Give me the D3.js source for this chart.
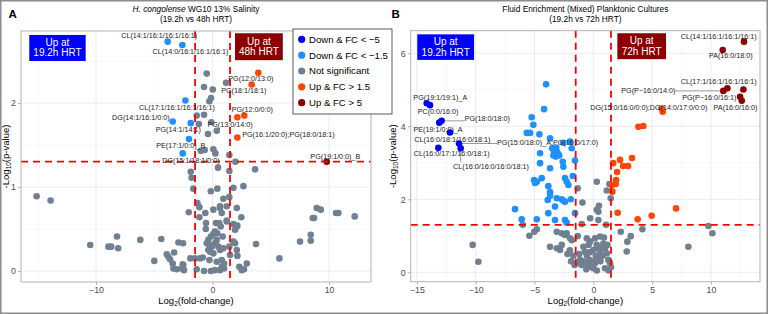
<!DOCTYPE html>
<html>
<head>
<meta charset="utf-8">
<script src="https://cdn.jsdelivr.net/npm/d3@7"></script>
<style>
  body { margin: 0; background: #fff; }
  text { font-family: "Liberation Sans", Arial, Helvetica, sans-serif; }
</style>
</head>
<body>
<div id="chart"></div>
<script>
// ---- colours / categories
var catNames = ["Down & FC < \u22125", "Down & FC < \u22121.5", "Not significant", "Up & FC > 1.5", "Up & FC > 5"];
var catColors = ["#0000FF", "#1E90FF", "#708090", "#FF4500", "#8B0000"];

// ---- panel A : H. congolense WG10 13% Salinity  [log2FC, -log10 p]
var aNotSig = [
  [-0.5,2.35],[-0.73,2.19],[0.02,2.16],[1.16,2.24],[-0.13,2.06],[-0.27,2.02],
  [-1.36,1.85],[-0.73,1.86],[-1.18,1.75],[-0.1,1.77],[0.36,1.67],[-0.39,1.63],
  [-1.01,1.43],[-0.67,1.44],[0.07,1.45],[0.24,1.40],[1.44,1.38],[1.96,1.30],
  [0.47,1.23],[1.44,1.19],[3.65,1.21],[-1.87,1.18],[-1.79,1.11],[-1.65,0.98],
  [0.41,0.98],[-0.15,0.95],[1.79,0.99],[2.65,1.01],[-15.1,0.89],[-13.9,0.84],
  [-1.3,0.81],[0.93,0.86],[1.44,0.88],[-2.04,0.70],[-1.13,0.64],[-0.62,0.69],
  [0.07,0.73],[0.64,0.75],[0.79,0.69],[2.08,0.75],[2.47,0.64],[-0.56,0.57],
  [0.3,0.57],[1.22,0.59],[1.79,0.56],[2.13,0.54],
  [-1.13,0.76],[0.64,0.77],[1.22,0.77],[1.22,0.60],[0.58,0.57],[0.70,0.53],
  [0.21,0.47],[0.07,0.44],[1.93,0.49],[2.08,0.53],[-0.15,0.41],[-0.36,0.37],
  [-0.5,0.33],[-0.27,0.31],[-0.07,0.29],[0.21,0.33],[0.36,0.37],[0.5,0.29],
  [0.64,0.25],[0.87,0.41],[0.93,0.27],[-0.36,0.25],[-0.21,0.23],[0.07,0.21],
  [1.5,0.19],[1.44,0.29],[1.79,0.35],[1.93,0.33],[2.08,0.25],[2.13,0.18],
  [-1.5,0.15],[-1.07,0.15],[-0.27,0.13],[0.36,0.11],[0.79,0.13],[0.99,0.09],
  [-1.36,0.02],[-0.73,0.0],[-0.15,0.0],[0.21,0.01],[0.64,0.01],[0.79,0.05],
  [0.99,0.03],[2.3,0.05],[2.51,0.01],[2.7,0.02],[2.94,0.09],[0.41,0.45],[-0.58,0.5],
  [8.94,0.75],[9.29,0.73],[10.6,0.69],[10.8,0.69],[12.2,0.65],[8.6,0.63],
  [8.71,0.63],[8.43,0.43],[8.43,0.36],[7.51,0.35],[5.74,0.15],[3.73,0.32],
  [-8.2,0.41],[-10.5,0.31],[-8.94,0.29],[-8.7,0.29],[-8.1,0.27],[-6.2,0.37],
  [-4.4,0.38],[-2.93,0.34],[-2.53,0.33],[-5.0,0.12],[-3.93,0.20],[-3.79,0.17],
  [-3.65,0.14],[-3.3,0.22],[-3.42,0.09],[-3.36,0.03],[-3.07,0.02],[-2.64,0.03],
  [-2.51,0.07],[-2.45,0.01],[-2.56,0.08],[-1.9,0.15],[-0.84,0.16]
];
var aDown = [[-3.85,2.73],[-2.59,2.69],[-2.33,2.03],[-3.42,1.78],[-1.87,1.76],[-2.02,1.57],[-2.56,1.40]];
var aDown5 = [];
var aUp = [[3.93,2.36],[3.36,2.22],[2.13,1.83],[2.73,1.85],[2.13,1.59]];
var aUp5 = [[9.8,1.30]];
// label text, point, label centre, leader line?
var aLabels = [
  { t: "CL(14:1/16:1/16:1/16:1)", p: [-3.85,2.73], l: [-4.58,2.80] },
  { t: "CL(14:0/16:1/16:1/16:1)", p: [-2.59,2.69], l: [-1.89,2.61] },
  { t: "PG(12:0/13:0)", p: [3.93,2.36], l: [3.29,2.29] },
  { t: "PG(18:1/18:1)", p: [3.36,2.22], l: [2.68,2.15] },
  { t: "CL(17:1/16:1/16:1/16:1)", p: [-2.33,2.03], l: [-3.05,1.95] },
  { t: "PG(12:0/0:0)", p: [2.73,1.85], l: [3.41,1.92] },
  { t: "DG(14:1/16:1/0:0)", p: [-3.42,1.78], l: [-6.15,1.83] },
  { t: "PG(13:0/14:0)", p: [2.13,1.83], l: [1.5,1.74] },
  { t: "PG(14:1/14:1)", p: [-1.87,1.76], l: [-2.94,1.69] },
  { t: "PG(16:1/20:0);PG(18:0/18:1)", p: [2.13,1.59], l: [6.51,1.62] },
  { t: "PE(17:1/0:0)_B", p: [-2.02,1.57], l: [-2.72,1.49] },
  { t: "PG(19:1/0:0)_B", p: [9.8,1.30], l: [10.54,1.36] },
  { t: "DG(15:1/18:1/0:0)", p: [-2.56,1.40], l: [-1.85,1.31] }
];

// ---- panel B : Fluid Enrichment (Mixed) Planktonic Cultures
var bNotSig = [
  [-10.26,0.75],[-9.78,0.29],[-6.0,1.30],[-5.44,1.0],[-5.02,1.11],[-4.81,1.18],
  [-3.68,0.70],[-3.11,1.11],[-1.33,2.30],[-0.93,1.91],[-0.99,1.32],[-1.33,0.99],
  [0.29,2.48],[1.14,2.24],[1.36,2.42],[1.48,2.03],[0.48,1.82],[0.43,1.66],
  [0.43,1.43],[1.08,1.30],[2.33,1.11],[3.18,0.99],[2.89,0.84],[2.84,0.57],
  [4.17,1.18],[8.08,0.70],[9.78,1.27],[10.12,1.07],
  [-0.85,0.70],[-0.71,0.56],[-0.56,0.47],[-0.34,0.34],[-0.22,0.15],[0,0.11],
  [0.14,0.25],[0.29,0.34],[0.43,0.43],[0.57,0.56],[0.71,0.70],[0.85,0.79],
  [0.99,0.66],[1.14,0.52],[1.28,0.34],[1.42,0.25],[1.5,0.14],[0,0.61],
  [0.29,0.75],[-0.28,0.84],[-0.56,0.93],[0.14,0.93],[0.57,0.98],[-1.13,0.34],
  [-1.41,0.25],[-0.99,0.2],[0.99,0.11],[-2.41,1.02],[-2.69,1.07],[-2.27,1.07],
  [-1.98,0.93],[-1.84,0.88],[-3.11,0.66],[-2.83,0.61],[-2.69,0.75],
  [-2.0,0.6],[-1.7,0.45],[-1.9,0.3],[-2.2,0.5],[-1.6,0.2],[-1.2,0.5],[-0.8,0.3],
  [-0.5,0.2],[-0.3,0.55],[0.2,0.45],[0.6,0.3],[0.8,0.45],[0.3,0.05],[-0.1,0.3],
  [1.2,0.75],[0.9,0.95],[1.3,0.05],[-0.6,0.08],[0.45,0.65],[-0.4,0.75],
  [0.29,1.71],[-0.28,1.48]
];
var bDown = [
  [-4.02,5.15],[-4.19,4.47],[-5.24,4.25],[-5.10,4.04],[-5.66,3.82],[-5.38,3.82],
  [-4.59,3.78],[-3.68,3.67],[-4.53,3.26],[-2.55,3.55],[-1.98,3.58],[-1.84,3.40],
  [-1.56,3.06],[-4.53,2.99],[-2.6,3.03],[-2.55,2.89],[-3.68,2.85],[-5.04,2.53],
  [-4.81,2.48],[-4.39,2.58],[-3.83,2.36],[-2.41,2.58],[-2.26,2.48],[-2.12,2.39],
  [-1.75,2.64],[-3.88,1.98],[-3.11,2.03],[-3.26,1.80],[-2.41,1.93],[-1.92,2.0],
  [-1.56,1.62],[-6.66,1.73],[-6.09,1.45],[-4.81,1.45],[-3.26,1.43],[-2.41,1.43],
  [-2.27,1.36],[-3.83,1.62],[-3.5,3.4],[-3.3,3.35],[-3.1,3.3],[-3.4,3.2],
  [-3.2,3.17],[-3.0,3.25],[-3.35,3.3],[-3.15,3.42],[-2.9,3.2],[-4.96,2.45],
  [-3.68,2.2],[-3.68,2.1],[-2.69,2.0],[-2.55,1.96]
];
var bDown5 = [[-14.17,4.63],[-13.89,4.58],[-13.1,4.10],[-12.9,4.15],[-12.19,3.83],[-11.42,3.53],[-11.28,3.40],[-13.18,3.41]];
var bUp = [
  [5.81,4.49],[5.9,4.40],[3.83,3.99],[4.25,4.01],[1.9,2.42],[1.62,2.21],[2.07,1.63],
  [3.77,1.45],[4.96,1.55],[7.03,1.75],
  [1.68,2.99],[2.27,3.08],[2.53,2.91],[2.95,2.91],[3.29,3.13],[2.02,2.75],[1.93,2.53],[1.59,2.39]
];
var bUp5 = [[12.81,6.32],[11.0,6.09],[12.76,5.01],[11.4,5.04],[11.05,4.97],[12.48,4.81],[12.62,4.70]];
var bLabels = [
  { t: "CL(14:1/16:1/16:1/16:1)", p: [12.81,6.32], l: [10.66,6.47] },
  { t: "PA(16:0/18:0)", p: [11.0,6.09], l: [11.69,5.93] },
  { t: "CL(17:1/16:1/16:1/16:1)", p: [12.76,5.01], l: [10.66,5.23], seg: true },
  { t: "PG(P\u221216:0/14:0)", p: [11.05,4.97], l: [4.68,4.97], seg: true },
  { t: "PG(P\u221216:0/16:1)", p: [11.4,5.04], l: [9.86,4.78] },
  { t: "PA(16:0/16:0)", p: [12.62,4.70], l: [12.09,4.51] },
  { t: "DG(15:0/16:0/0:0);DG(14:0/17:0/0:0)", p: [5.81,4.49], l: [4.72,4.51] },
  { t: "PG(19:1/19:1)_A", p: [-14.17,4.63], l: [-13.01,4.79] },
  { t: "PC(0:0/16:0)", p: [-13.89,4.58], l: [-13.2,4.40] },
  { t: "PG(18:0/18:0)", p: [-12.9,4.15], l: [-9.02,4.22], seg: true },
  { t: "PE(19:1/0:0)_A", p: [-12.19,3.83], l: [-13.2,3.92] },
  { t: "CL(16:0/18:1/16:0/18:1)", p: [-11.42,3.53], l: [-11.99,3.64] },
  { t: "PG(15:0/18:0)_A;PG(16:0/17:0)", p: [-11.42,3.53], l: [-3.89,3.55], seg: true },
  { t: "CL(16:0/17:1/16:0/18:1)", p: [-13.18,3.41], l: [-12.04,3.26] },
  { t: "CL(16:0/16:0/16:0/18:1)", p: [-11.28,3.40], l: [-8.70,2.91], seg: true }
];

var svg = d3.select("#chart").append("svg")
    .attr("width", 768)
    .attr("height", 314);

svg.append("rect")
    .attr("x", 0.75).attr("y", 0.75)
    .attr("width", 766.5).attr("height", 312.5)
    .attr("fill", "#fff")
    .attr("stroke", "#8c8c8c")
    .attr("stroke-width", 1.5);

function drawPanel(o) {
    var x = d3.scaleLinear().domain(o.xDomain).range([o.left, o.right]);
    var y = d3.scaleLinear().domain(o.yDomain).range([o.bottom, o.top]);
    var g = svg.append("g");

    // minor + major grid
    g.selectAll(".vmin").data(o.xMinor).enter().append("line")
        .attr("x1", d => x(d)).attr("x2", d => x(d))
        .attr("y1", o.top).attr("y2", o.bottom)
        .attr("stroke", "#f0f0f0").attr("stroke-width", 0.5);
    g.selectAll(".hmin").data(o.yMinor).enter().append("line")
        .attr("x1", o.left).attr("x2", o.right)
        .attr("y1", d => y(d)).attr("y2", d => y(d))
        .attr("stroke", "#f0f0f0").attr("stroke-width", 0.5);
    g.selectAll(".vmaj").data(o.xTicks).enter().append("line")
        .attr("x1", d => x(d)).attr("x2", d => x(d))
        .attr("y1", o.top).attr("y2", o.bottom)
        .attr("stroke", "#e6e6e6").attr("stroke-width", 0.8);
    g.selectAll(".hmaj").data(o.yTicks).enter().append("line")
        .attr("x1", o.left).attr("x2", o.right)
        .attr("y1", d => y(d)).attr("y2", d => y(d))
        .attr("stroke", "#e6e6e6").attr("stroke-width", 0.8);

    // annotation boxes
    o.boxes.forEach(function (b) {
        g.append("rect")
            .attr("x", x(b.x0)).attr("y", y(b.y1))
            .attr("width", x(b.x1) - x(b.x0))
            .attr("height", y(b.y0) - y(b.y1))
            .attr("fill", b.fill);
        var t = g.append("text")
            .attr("x", (x(b.x0) + x(b.x1)) / 2)
            .attr("y", (y(b.y0) + y(b.y1)) / 2)
            .attr("text-anchor", "middle")
            .attr("fill", "#fff")
            .style("font-size", "10px");
        t.append("tspan").attr("x", (x(b.x0) + x(b.x1)) / 2).attr("dy", "-0.2em").text(b.lines[0]);
        t.append("tspan").attr("x", (x(b.x0) + x(b.x1)) / 2).attr("dy", "1.05em").text(b.lines[1]);
    });

    // points
    o.series.forEach(function (s) {
        g.selectAll(null).data(s.data).enter().append("circle")
            .attr("cx", d => x(d[0]))
            .attr("cy", d => y(d[1]))
            .attr("r", 3.3)
            .attr("fill", catColors[s.cat]);
    });

    // threshold lines
    [-1.5, 1.5].forEach(function (v) {
        g.append("line")
            .attr("x1", x(v)).attr("x2", x(v))
            .attr("y1", o.top).attr("y2", o.bottom)
            .attr("stroke", "#FF0000").attr("stroke-width", 1.8)
            .attr("stroke-dasharray", "7,5");
    });
    g.append("line")
        .attr("x1", o.left).attr("x2", o.right)
        .attr("y1", y(-Math.log10(0.05))).attr("y2", y(-Math.log10(0.05)))
        .attr("stroke", "#FF0000").attr("stroke-width", 1.8)
        .attr("stroke-dasharray", "7,5");

    // labels
    o.labels.forEach(function (lb) {
        var t = g.append("text")
            .attr("x", x(lb.l[0]))
            .attr("y", y(lb.l[1]))
            .attr("dy", "0.35em")
            .attr("text-anchor", "middle")
            .attr("fill", "#222")
            .style("font-size", "7.2px")
            .text(lb.t);
        if (lb.seg) {
            var bb = t.node().getBBox();
            var px = x(lb.p[0]), py = y(lb.p[1]);
            var ex = Math.max(bb.x, Math.min(px, bb.x + bb.width));
            var ey = Math.max(bb.y, Math.min(py, bb.y + bb.height));
            g.insert("line", "text")
                .attr("x1", px).attr("y1", py)
                .attr("x2", ex).attr("y2", ey)
                .attr("stroke", "#333").attr("stroke-width", 0.5);
        }
    });

    // panel border
    g.append("rect")
        .attr("x", o.left).attr("y", o.top)
        .attr("width", o.right - o.left).attr("height", o.bottom - o.top)
        .attr("fill", "none").attr("stroke", "#b3b3b3").attr("stroke-width", 1);

    // axes
    var xa = g.append("g")
        .attr("transform", "translate(0," + o.bottom + ")")
        .call(d3.axisBottom(x).tickValues(o.xTicks).tickFormat(d3.format("d")).tickSize(3).tickPadding(2));
    var ya = g.append("g")
        .attr("transform", "translate(" + o.left + ",0)")
        .call(d3.axisLeft(y).tickValues(o.yTicks).tickFormat(d3.format("d")).tickSize(3).tickPadding(2));
    [xa, ya].forEach(function (a) {
        a.select(".domain").remove();
        a.selectAll("line").attr("stroke", "#b3b3b3");
        a.selectAll("text").attr("fill", "#4d4d4d")
            .style("font-size", "8.8px")
            .style("font-family", "'Liberation Sans', Arial, sans-serif");
    });

    // axis titles
    var xt = g.append("text")
        .attr("x", (o.left + o.right) / 2).attr("y", 304)
        .attr("text-anchor", "middle")
        .style("font-size", "9.5px");
    xt.append("tspan").text("Log");
    xt.append("tspan").attr("baseline-shift", "-25%").style("font-size", "6.5px").text("2");
    xt.append("tspan").text("(fold-change)");

    var yt = g.append("text")
        .attr("transform", "translate(" + o.yTitleX + "," + (o.top + o.bottom) / 2 + ") rotate(-90)")
        .attr("text-anchor", "middle")
        .style("font-size", "9.5px");
    yt.append("tspan").text("-Log");
    yt.append("tspan").attr("baseline-shift", "-25%").style("font-size", "6.5px").text("10");
    yt.append("tspan").text("(p-value)");

    // title
    var cx = (o.left + o.right) / 2;
    var t1 = g.append("text").attr("x", cx).attr("y", 12)
        .attr("text-anchor", "middle").style("font-size", "8.3px");
    o.title1.forEach(function (p) {
        t1.append("tspan").style("font-style", p.italic ? "italic" : "normal").text(p.text);
    });
    g.append("text").attr("x", cx).attr("y", 22)
        .attr("text-anchor", "middle").style("font-size", "8.3px")
        .text(o.title2);

    // tag
    g.append("text").attr("x", o.tagX).attr("y", 17.5)
        .style("font-size", "11.5px").style("font-weight", "bold")
        .text(o.tag);
}

drawPanel({
    left: 21, right: 371, top: 31, bottom: 282,
    xDomain: [-16.44, 13.6], yDomain: [-0.131, 2.857],
    xTicks: [-10, 0, 10], xMinor: [-15, -5, 5],
    yTicks: [0, 1, 2], yMinor: [0.5, 1.5, 2.5],
    series: [
        { data: aNotSig, cat: 2 }, { data: aDown, cat: 1 }, { data: aDown5, cat: 0 },
        { data: aUp, cat: 3 }, { data: aUp5, cat: 4 }
    ],
    labels: aLabels,
    boxes: [
        { x0: -15.73, x1: -10.89, y0: 2.50, y1: 2.81, fill: "#0000FF", lines: ["Up at", "19.2h HRT"] },
        { x0: 1.93, x1: 6.03, y0: 2.51, y1: 2.83, fill: "#8B0000", lines: ["Up at", "48h HRT"] }
    ],
    yTitleX: 9,
    title1: [{ text: "H. congolense", italic: true }, { text: " WG10 13% Salinity" }],
    title2: "(19.2h vs 48h HRT)",
    tag: "A", tagX: 8.5
});

drawPanel({
    left: 410.7, right: 760, top: 30.7, bottom: 281.7,
    xDomain: [-15.53, 14.17], yDomain: [-0.258, 6.62],
    xTicks: [-15, -10, -5, 0, 5, 10], xMinor: [-12.5, -7.5, -2.5, 2.5, 7.5, 12.5],
    yTicks: [0, 2, 4, 6], yMinor: [1, 3, 5],
    series: [
        { data: bNotSig, cat: 2 }, { data: bDown, cat: 1 }, { data: bDown5, cat: 0 },
        { data: bUp, cat: 3 }, { data: bUp5, cat: 4 }
    ],
    labels: bLabels,
    boxes: [
        { x0: -14.97, x1: -10.14, y0: 5.82, y1: 6.52, fill: "#0000FF", lines: ["Up at", "19.2h HRT"] },
        { x0: 2.04, x1: 6.18, y0: 5.84, y1: 6.55, fill: "#8B0000", lines: ["Up at", "72h HRT"] }
    ],
    yTitleX: 396,
    title1: [{ text: "Fluid Enrichment (Mixed) Planktonic Cultures" }],
    title2: "(19.2h vs 72h HRT)",
    tag: "B", tagX: 391.5
});

// legend (inset, drawn over panel A)
var leg = svg.append("g");
leg.append("rect")
    .attr("x", 293).attr("y", 29).attr("width", 99).attr("height", 85)
    .attr("fill", "#fff").attr("stroke", "#333").attr("stroke-width", 0.8);
catNames.forEach(function (n, i) {
    leg.append("circle")
        .attr("cx", 301.7).attr("cy", 39.3 + i * 15.85).attr("r", 3.6)
        .attr("fill", catColors[i]);
    leg.append("text")
        .attr("x", 309).attr("y", 39.3 + i * 15.85).attr("dy", "0.35em")
        .style("font-size", "9.6px")
        .text(n);
});
</script>
</body>
</html>
